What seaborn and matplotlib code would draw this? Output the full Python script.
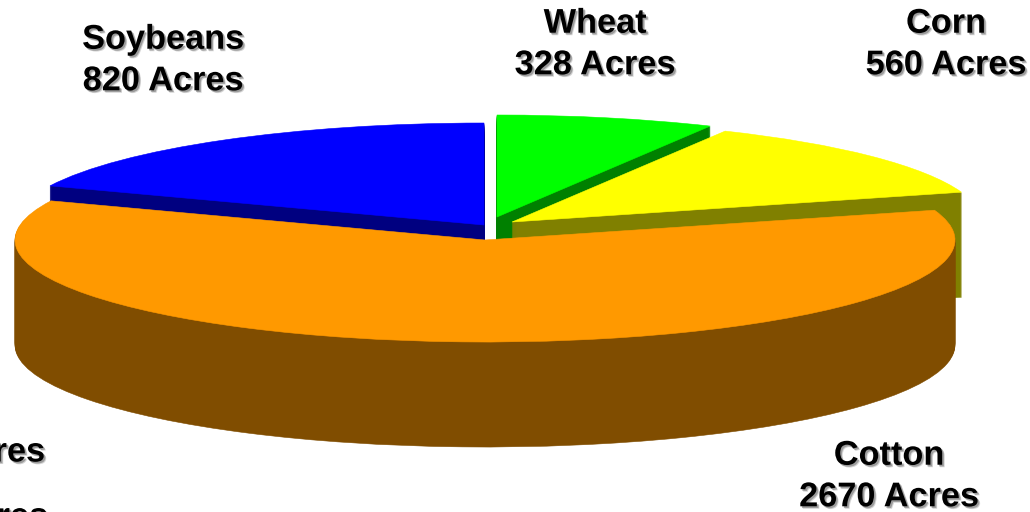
import matplotlib
matplotlib.use("Agg")
import matplotlib.pyplot as plt
import matplotlib.patheffects as pe
import seaborn as sns

# Data
crops = ["Wheat", "Corn", "Cotton", "Soybeans"]
acres = [328, 560, 2670, 820]
top_colors = ["#00FF00", "#FFFF00", "#FF9900", "#0000FF"]
side_colors = ["#008000", "#808000", "#804D00", "#000080"]
cut_off_labels = ["Acres", "Acres"]

# Layout (pixels in the 1030x512 frame)
W, H = 1030, 512
RX, RY, DEPTH = 470, 102, 105
K = RY / RX
centers = {"Wheat": (497, 217), "Corn": (512, 222), "Cotton": (485, 240), "Soybeans": (484, 225)}
label_pos = {"Wheat": (595, 45), "Corn": (946, 45), "Cotton": (889, 477), "Soybeans": (163, 61)}
draw_order = ["Soybeans", "Wheat", "Corn", "Cotton"]

sns.set_theme(style="white")
plt.rcParams["font.family"] = ["Liberation Sans", "DejaVu Sans"]

fig = plt.figure(figsize=(W / 100, H / 100), dpi=100, facecolor="white")
ax = fig.add_axes([0, 0, 1, 1])


def draw_slice(name, px_y_offset, color):
    k = crops.index(name)
    cx, cy = centers[name]
    wedges, _ = ax.pie(
        acres, startangle=90, counterclock=False, radius=RX,
        center=(cx, -(cy + px_y_offset) / K), colors=[color] * len(acres), frame=True,
        wedgeprops=dict(linewidth=0.4, edgecolor=color),
    )
    for i, w in enumerate(wedges):
        if i != k:
            w.remove()


for name in draw_order:
    k = crops.index(name)
    for d in range(DEPTH, 0, -1):
        draw_slice(name, d, side_colors[k])
    draw_slice(name, 0, top_colors[k])

ax.set_aspect("auto")
ax.set_xlim(0, W)
ax.set_ylim(-H / K, 0)
ax.set_xticks([])
ax.set_yticks([])
ax.axis("off")

shadow = [
    pe.SimplePatchShadow(offset=(1.8, -1.8), shadow_rgbFace="#AAAAAA", alpha=0.5, rho=1),
    pe.SimplePatchShadow(offset=(1.2, -1.2), shadow_rgbFace="#777777", alpha=0.6, rho=1),
    pe.Normal(),
]


def put(xp, yp, s, ha="center"):
    ax.text(xp, -yp / K, s, ha=ha, va="center", fontsize=24.7, fontweight="bold",
            color="black", linespacing=1.44, clip_on=False, path_effects=shadow)


for name in crops:
    xp, yp = label_pos[name]
    put(xp, yp, f"{name}\n{acres[crops.index(name)]} Acres")

for (xr, yp), s in zip([(45, 453), (48, 518)], cut_off_labels):
    put(xr, yp, s, ha="right")

fig.savefig("out.png", dpi=100, facecolor="white")
